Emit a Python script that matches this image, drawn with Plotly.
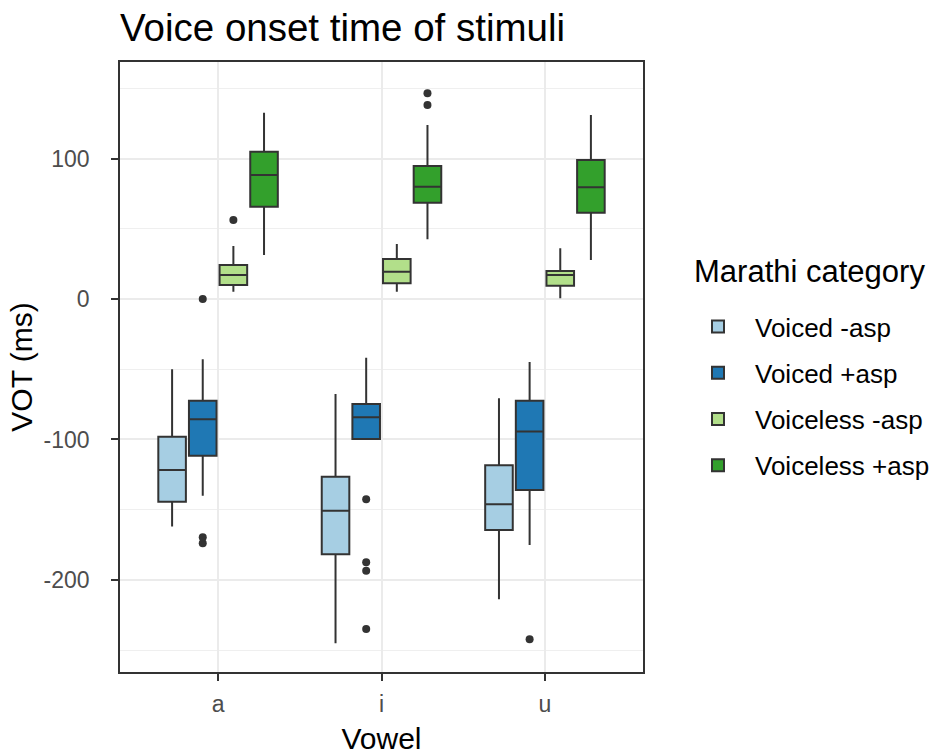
import plotly.graph_objects as go

# Voice onset time (ms) box summaries per vowel, one list per Marathi category
vowels = ["a", "i", "u"]
categories = ["Voiced -asp", "Voiced +asp", "Voiceless -asp", "Voiceless +asp"]
colors = ["#A6CEE3", "#1F78B4", "#B2DF8A", "#33A02C"]

lower_whisker = {
    "Voiced -asp": [-162.0, -245.1, -213.7],
    "Voiced +asp": [-140.0, -99.6, -175.1],
    "Voiceless -asp": [5.2, 5.2, 0.5],
    "Voiceless +asp": [31.3, 42.5, 27.8],
}
q1 = {
    "Voiced -asp": [-144.3, -181.7, -164.4],
    "Voiced +asp": [-111.5, -99.6, -135.9],
    "Voiceless -asp": [10.0, 11.2, 9.5],
    "Voiceless +asp": [65.7, 68.5, 61.4],
}
median = {
    "Voiced -asp": [-121.7, -150.7, -146.1],
    "Voiced +asp": [-85.6, -84.2, -94.4],
    "Voiceless -asp": [17.1, 19.4, 17.1],
    "Voiceless +asp": [88.3, 79.9, 79.5],
}
q3 = {
    "Voiced -asp": [-98.0, -126.5, -118.4],
    "Voiced +asp": [-72.4, -74.7, -72.4],
    "Voiceless -asp": [24.2, 28.5, 19.9],
    "Voiceless +asp": [104.8, 94.7, 98.9],
}
upper_whisker = {
    "Voiced -asp": [-50.0, -67.6, -70.7],
    "Voiced +asp": [-42.9, -41.8, -44.8],
    "Voiceless -asp": [37.7, 39.1, 36.1],
    "Voiceless +asp": [132.6, 123.8, 131.0],
}
outliers = {
    "Voiced -asp": [[], [], []],
    "Voiced +asp": [[0.0, -169.6, -173.9], [-142.6, -187.4, -193.4, -234.9], [-242.2]],
    "Voiceless -asp": [[56.2], [], []],
    "Voiceless +asp": [[], [146.4, 138.1], []],
}

y_ticks = [-200, -100, 0, 100]
y_tick_labels = ["-200", "-100", "0", "100"]

FONT = "Liberation Sans, Arial, sans-serif"
BOX_LINE = "#333333"
W, H = 940, 755

fig = go.Figure()
for cat, col in zip(categories, colors):
    for k, v in enumerate(vowels):
        box = dict(
            name=cat,
            legendgroup=cat,
            offsetgroup=cat,
            showlegend=(k == 0),
            x=[v],
            q1=[q1[cat][k]],
            median=[median[cat][k]],
            q3=[q3[cat][k]],
            lowerfence=[lower_whisker[cat][k]],
            upperfence=[upper_whisker[cat][k]],
            fillcolor=col,
            line=dict(color=BOX_LINE, width=2),
            marker=dict(color=BOX_LINE, size=8),
            whiskerwidth=0,
            hoverinfo="y",
        )
        if outliers[cat][k]:
            box.update(y=[outliers[cat][k]], boxpoints="outliers", jitter=0, pointpos=0)
        else:
            box.update(boxpoints=False)
        fig.add_trace(go.Box(**box))

tick_font = dict(family=FONT, size=23, color="#4D4D4D")
title_font = dict(family=FONT, size=30, color="black")

# legend heading, placed as its own text block above the keys
fig.add_annotation(
    text="Marathi category",
    xref="paper", yref="paper",
    x=1.094, xanchor="left",
    y=0.656, yanchor="middle",
    showarrow=False,
    font=dict(family=FONT, size=31, color="black"),
)

fig.update_layout(
    width=W,
    height=H,
    margin=dict(l=120, r=297, t=62, b=83),
    paper_bgcolor="white",
    plot_bgcolor="white",
    boxmode="group",
    boxgap=0.25,
    boxgroupgap=0.1,
    font=dict(family=FONT, color="black"),
    title=dict(
        text="Voice onset time of stimuli",
        font=dict(family=FONT, size=38.5, color="black"),
        x=0, xanchor="left", xref="paper",
        y=1 - 28 / H, yanchor="middle", yref="container",
    ),
    xaxis=dict(
        type="category",
        categoryorder="array",
        categoryarray=vowels,
        range=[-0.6, 2.6],
        automargin=False,
        showgrid=True,
        gridcolor="#EBEBEB",
        gridwidth=1.5,
        showline=True,
        mirror=True,
        linecolor=BOX_LINE,
        linewidth=1.5,
        ticks="outside",
        ticklen=7,
        tickwidth=1.5,
        tickcolor=BOX_LINE,
        tickfont=tick_font,
        ticklabelstandoff=4,
        title=dict(text="Vowel", font=title_font, standoff=13),
        zeroline=False,
    ),
    yaxis=dict(
        range=[-265.5, 168.7],
        automargin=False,
        tickvals=y_ticks,
        ticktext=y_tick_labels,
        showgrid=True,
        gridcolor="#EBEBEB",
        gridwidth=1.5,
        minor=dict(dtick=50, tick0=0, showgrid=True, gridcolor="#EFEFEF", gridwidth=1),
        showline=True,
        mirror=True,
        linecolor=BOX_LINE,
        linewidth=1.5,
        ticks="outside",
        ticklen=7,
        tickwidth=1.5,
        tickcolor=BOX_LINE,
        tickfont=tick_font,
        ticklabelstandoff=17,
        title=dict(text="VOT (ms)", font=title_font, standoff=2),
        zeroline=False,
    ),
    legend=dict(
        font=dict(family=FONT, size=26, color="black"),
        xref="container", yref="container",
        x=681 / W, xanchor="left",
        y=1 - 396 / H, yanchor="middle",
        tracegroupgap=9.5,
        itemwidth=64,
        itemsizing="constant",
        bgcolor="rgba(0,0,0,0)",
    ),
    showlegend=True,
)

fig.write_html("out.html")
